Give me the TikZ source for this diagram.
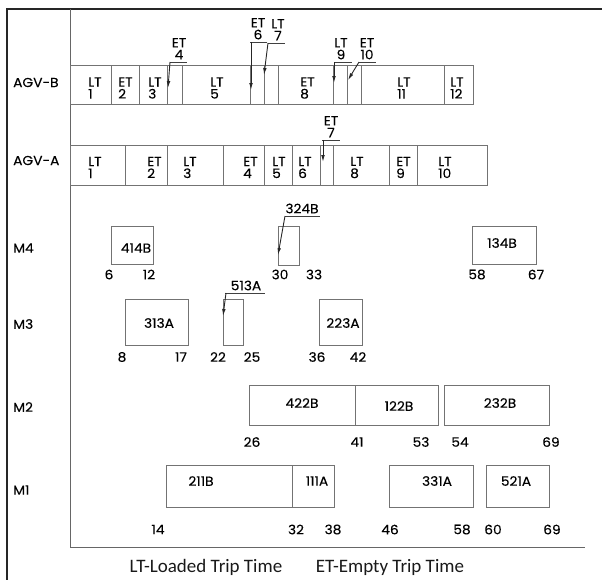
\documentclass[tikz,border=0pt]{standalone}
\usepackage{fontspec}
\newfontfamily\labfont[FakeStretch=1.06,FakeBold=0.15]{Poppins}
\newfontfamily\capfont{Carlito}
\usetikzlibrary{arrows.meta}
\begin{document}
\begin{tikzpicture}[x=1pt,y=-1pt,
  frame/.style={draw=black!85, line width=1.2pt},
  axis/.style={draw=black!60, line width=0.9pt},
  cell/.style={draw=black!55, line width=0.9pt},
  lbl/.style={font=\labfont\fontsize{13}{12}\selectfont, inner sep=0pt, text=black},
  cl/.style={lbl, align=left, anchor=west},
  callout/.style={lbl, align=center, anchor=south},
  rowlbl/.style={lbl, anchor=west},
  uline/.style={draw=black!75, line width=0.8pt},
  ptr/.style={draw=black!85, line width=0.9pt, -{Latex[length=7pt,width=3.6pt]}},
  capt/.style={font=\capfont\fontsize{19}{22}\selectfont, inner sep=0pt, text=black!90}
]
\useasboundingbox (0,0) rectangle (602,579);
% frame and axes
\draw[frame] (7,582) -- (7,9) -- (604,9);
\draw[axis] (70,9) -- (70,547) -- (585,547);

% row labels
\node[rowlbl] (rB) at (13,82.5) {AGV-B};
\node[rowlbl] (rA) at (13,160.5) {AGV-A};
\node[rowlbl] (r4) at (13,248) {M4};
\node[rowlbl] (r3) at (13,324) {M3};
\node[rowlbl] (r2) at (13,407) {M2};
\node[rowlbl] (r1) at (13,490) {M1};

% AGV-B
\draw[cell] (70,65) rectangle (473,104);
\foreach \x in {111,139,167,182,250,264,278,333,347,361,444} \draw[cell] (\x,65) -- (\x,104);
\node[cl] (b1) at (88,88) {LT\\1};
\node[cl] (b2) at (118,88) {ET\\2};
\node[cl] (b3) at (148,88) {LT\\3};
\node[cl] (b5) at (210,88) {LT\\5};
\node[cl] (b8) at (300,88) {ET\\8};
\node[cl] (b11) at (397,88) {LT\\11};
\node[cl] (b12) at (450,88) {LT\\12};

% AGV-B callouts
\node[callout] (c4) at (179,59.5) {ET\\4};
\coordinate (u4a) at (170,62); \coordinate (u4b) at (187,62); \coordinate (t4) at (168,88);
\draw[uline] (u4a) -- (u4b); \draw[ptr] (u4a) -- (t4);

\node[callout] (c6) at (258,39.5) {ET\\6};
\coordinate (u6a) at (250,42); \coordinate (u6b) at (267,42); \coordinate (t6) at (251,90);
\draw[uline] (u6a) -- (u6b); \draw[ptr] (251,42) -- (t6);

\node[callout] (c7) at (278,40.5) {LT\\7};
\coordinate (u7a) at (268,43); \coordinate (u7b) at (285,43); \coordinate (t7) at (264,75);
\draw[uline] (u7a) -- (u7b); \draw[ptr] (u7a) -- (t7);

\node[callout] (c9) at (341,59.5) {LT\\9};
\coordinate (u9a) at (334,62); \coordinate (u9b) at (352,62); \coordinate (t9) at (334,83);
\draw[uline] (u9a) -- (u9b); \draw[ptr] (u9a) -- (t9);

\node[callout] (c10) at (367,59.5) {ET\\10};
\coordinate (u10a) at (359,62); \coordinate (u10b) at (376,62); \coordinate (t10) at (348,80);
\draw[uline] (u10a) -- (u10b); \draw[ptr] (u10a) -- (t10);

% AGV-A
\draw[cell] (70,145) rectangle (487,185);
\foreach \x in {125,167,223,264,292,320,333,389,417} \draw[cell] (\x,145) -- (\x,185);
\node[cl] (a1) at (88,167.5) {LT\\1};
\node[cl] (a2) at (147,167.5) {ET\\2};
\node[cl] (a3) at (183,167.5) {LT\\3};
\node[cl] (a4) at (243,167.5) {ET\\4};
\node[cl] (a5) at (272,167.5) {LT\\5};
\node[cl] (a6) at (298,167.5) {LT\\6};
\node[cl] (a8) at (350,167.5) {LT\\8};
\node[cl] (a9) at (396,167.5) {ET\\9};
\node[cl] (a10) at (438,167.5) {LT\\10};

\node[callout] (ca7) at (331,137.5) {ET\\7};
\coordinate (ua7a) at (322,140); \coordinate (ua7b) at (340,140); \coordinate (ta7) at (323,162);
\draw[uline] (ua7a) -- (ua7b); \draw[ptr] (323,140) -- (ta7);

% M4
\draw[cell] (111,226) rectangle (153,264);
\node[lbl] (m414) at (136,248) {414B};
\node[lbl] (n6) at (109,274.5) {6};
\node[lbl] (n12) at (149,274.5) {12};

\draw[cell] (278,226) rectangle (299,265);
\node[lbl, anchor=south] (m324) at (302,213.5) {324B};
\coordinate (u324a) at (285,216); \coordinate (u324b) at (320,216); \coordinate (t324) at (278,255);
\draw[uline] (u324a) -- (u324b); \draw[ptr] (u324a) -- (t324);
\node[lbl] (n30) at (280,274.5) {30};
\node[lbl] (n33) at (314,274.5) {33};

\draw[cell] (472,226) rectangle (536,264);
\node[lbl] (m134) at (502,243) {134B};
\node[lbl] (n58a) at (477,274.5) {58};
\node[lbl] (n67) at (536,274.5) {67};

% M3
\draw[cell] (125,299) rectangle (188,345);
\node[lbl] (m313) at (159,323) {313A};
\node[lbl] (n8) at (122,357) {8};
\node[lbl] (n17) at (181,357) {17};

\draw[cell] (223,299) rectangle (243,345);
\node[lbl, anchor=south] (m513) at (246,290.5) {513A};
\coordinate (u513a) at (225,293); \coordinate (u513b) at (265,293); \coordinate (t513) at (223,316);
\draw[uline] (u513a) -- (u513b); \draw[ptr] (226,293) -- (t513);
\node[lbl] (n22) at (218,357) {22};
\node[lbl] (n25) at (252,357) {25};

\draw[cell] (319,299) rectangle (362,345);
\node[lbl] (m223) at (343,323) {223A};
\node[lbl] (n36) at (317,357) {36};
\node[lbl] (n42) at (358,357) {42};

% M2
\draw[cell] (249,385) rectangle (438,425);
\draw[cell] (355,385) -- (355,425);
\node[lbl] (m422) at (302,403) {422B};
\node[lbl] (m122) at (399,406) {122B};
\draw[cell] (444,385) rectangle (549,425);
\node[lbl] (m232) at (500,403) {232B};
\node[lbl] (n26) at (252,442) {26};
\node[lbl] (n41) at (357,442) {41};
\node[lbl] (n53) at (421,442) {53};
\node[lbl] (n54) at (460,442) {54};
\node[lbl] (n69a) at (551,442) {69};

% M1
\draw[cell] (166,465) rectangle (334,507);
\draw[cell] (292,465) -- (292,507);
\node[lbl] (m211) at (201,481) {211B};
\node[lbl] (m111) at (317,481) {111A};
\draw[cell] (389,465) rectangle (473,507);
\node[lbl] (m331) at (437,481) {331A};
\draw[cell] (486,465) rectangle (549,507);
\node[lbl] (m521) at (516,481) {521A};
\node[lbl] (n14) at (158,529.5) {14};
\node[lbl] (n32) at (296,529.5) {32};
\node[lbl] (n38) at (333,529.5) {38};
\node[lbl] (n46) at (390,529.5) {46};
\node[lbl] (n58b) at (462,529.5) {58};
\node[lbl] (n60) at (493,529.5) {60};
\node[lbl] (n69b) at (552,529.5) {69};

% captions
\node[capt] (k1) at (206,567) {LT-Loaded Trip Time};
\node[capt] (k2) at (390,567) {ET-Empty Trip Time};
\end{tikzpicture}
\end{document}
